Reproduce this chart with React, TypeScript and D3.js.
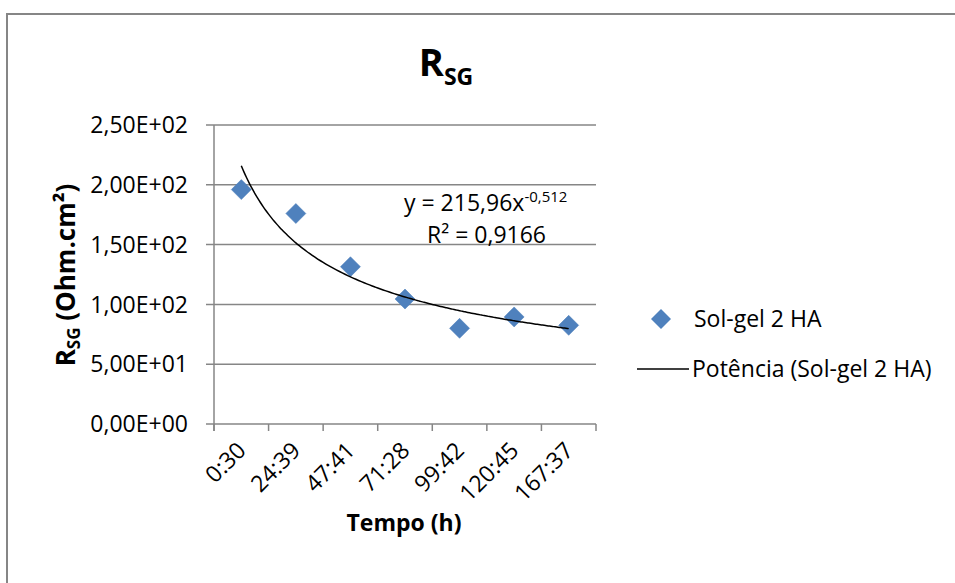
import * as d3 from "d3"

const categories = ["0:30", "24:39", "47:41", "71:28", "99:42", "120:45", "167:37"]
const values = [196, 176, 131.5, 104.5, 80, 89.5, 82.5]
const yTicks = [0, 50, 100, 150, 200, 250]
const yTickLabels = ["0,00E+00", "5,00E+01", "1,00E+02", "1,50E+02", "2,00E+02", "2,50E+02"]
const fitA = 215.96
const fitB = -0.512

const FONT = "'Open Sans', 'DejaVu Sans', sans-serif"
const FS = 23

export default function App() {
  const width = 955
  const height = 583
  const left = 214
  const right = 596
  const top = 125
  const bottom = 424

  const x = d3.scaleBand().domain(categories).range([left, right])
  const y = d3.scaleLinear().domain([0, 250]).range([bottom, top])
  // trend index 1..7 -> category centres
  const xi = d3
    .scaleLinear()
    .domain([1, categories.length])
    .range([x(categories[0])! + x.bandwidth() / 2, x(categories[categories.length - 1])! + x.bandwidth() / 2])

  const fitX = d3.range(1, 7.0001, 0.05)
  const line = d3
    .line<number>()
    .x((d) => xi(d))
    .y((d) => y(fitA * Math.pow(d, fitB)))
    .curve(d3.curveMonotoneX)

  const diamond = d3.symbol(d3.symbolSquare, 200)()
  const bandTicks = categories.map((c) => x(c)!).concat([right])

  return (
    <svg
      width={width}
      height={height}
      style={{ position: "absolute", left: 0, top: 0, background: "#fff" }}
      fontFamily={FONT}
    >
      {/* chart frame */}
      <path d={`M7,${height} V14 H${width}`} fill="none" stroke="#868686" strokeWidth={2} />

      {/* title */}
      <text x={446} y={76} textAnchor="middle" fontWeight="bold" fontSize={38}>
        R<tspan fontSize={23} dy={9}>SG</tspan>
      </text>

      {/* gridlines and y ticks */}
      {yTicks.map((t, i) => (
        <g key={t}>
          <line x1={left - 8} x2={right} y1={y(t)} y2={y(t)} stroke="#868686" strokeWidth={1.5} />
          <text x={188} y={y(t)} dy="0.36em" textAnchor="end" fontSize={FS}>
            {yTickLabels[i]}
          </text>
        </g>
      ))}

      {/* y axis */}
      <line x1={left} x2={left} y1={top} y2={bottom + 7} stroke="#868686" strokeWidth={1.5} />
      {/* x ticks */}
      {bandTicks.map((bx, i) => (
        <line key={i} x1={bx} x2={bx} y1={bottom} y2={bottom + 7} stroke="#868686" strokeWidth={1.5} />
      ))}

      {/* x labels */}
      {categories.map((c) => {
        const cx = x(c)! + x.bandwidth() / 2
        return (
          <text
            key={c}
            transform={`translate(${cx + 6},${452}) rotate(-45)`}
            textAnchor="end"
            fontSize={FS}
          >
            {c}
          </text>
        )
      })}

      {/* axis titles */}
      <text x={404} y={531} textAnchor="middle" fontWeight="bold" fontSize={FS}>
        Tempo (h)
      </text>
      <text transform={`translate(75,275) rotate(-90)`} textAnchor="middle" fontWeight="bold" fontSize={26}>
        R<tspan fontSize={17} dy={5}>SG</tspan>
        <tspan dy={-5}> (Ohm.cm²)</tspan>
      </text>

      {/* points */}
      {values.map((v, i) => (
        <path
          key={i}
          d={diamond}
          transform={`translate(${x(categories[i])! + x.bandwidth() / 2},${y(v)}) rotate(45)`}
          fill="#4F81BD"
          stroke="#4A7EBB"
          strokeWidth={0.5}
        />
      ))}

      {/* power trendline */}
      <path d={line(fitX)!} fill="none" stroke="#000" strokeWidth={1.5} />

      {/* equation */}
      <text x={404} y={211} fontSize={FS}>
        y = 215,96x<tspan fontSize={15} dy={-9}>-0,512</tspan>
      </text>
      <text x={427} y={243} fontSize={FS}>
        R² = 0,9166
      </text>

      {/* legend */}
      <path d={diamond} transform="translate(661,319) rotate(45)" fill="#4F81BD" />
      <text x={694} y={319} dy="0.36em" fontSize={FS}>
        Sol-gel 2 HA
      </text>
      <line x1={637} x2={689} y1={369} y2={369} stroke="#000" strokeWidth={1.5} />
      <text x={692} y={369} dy="0.36em" fontSize={FS}>
        Potência (Sol-gel 2 HA)
      </text>
    </svg>
  )
}
